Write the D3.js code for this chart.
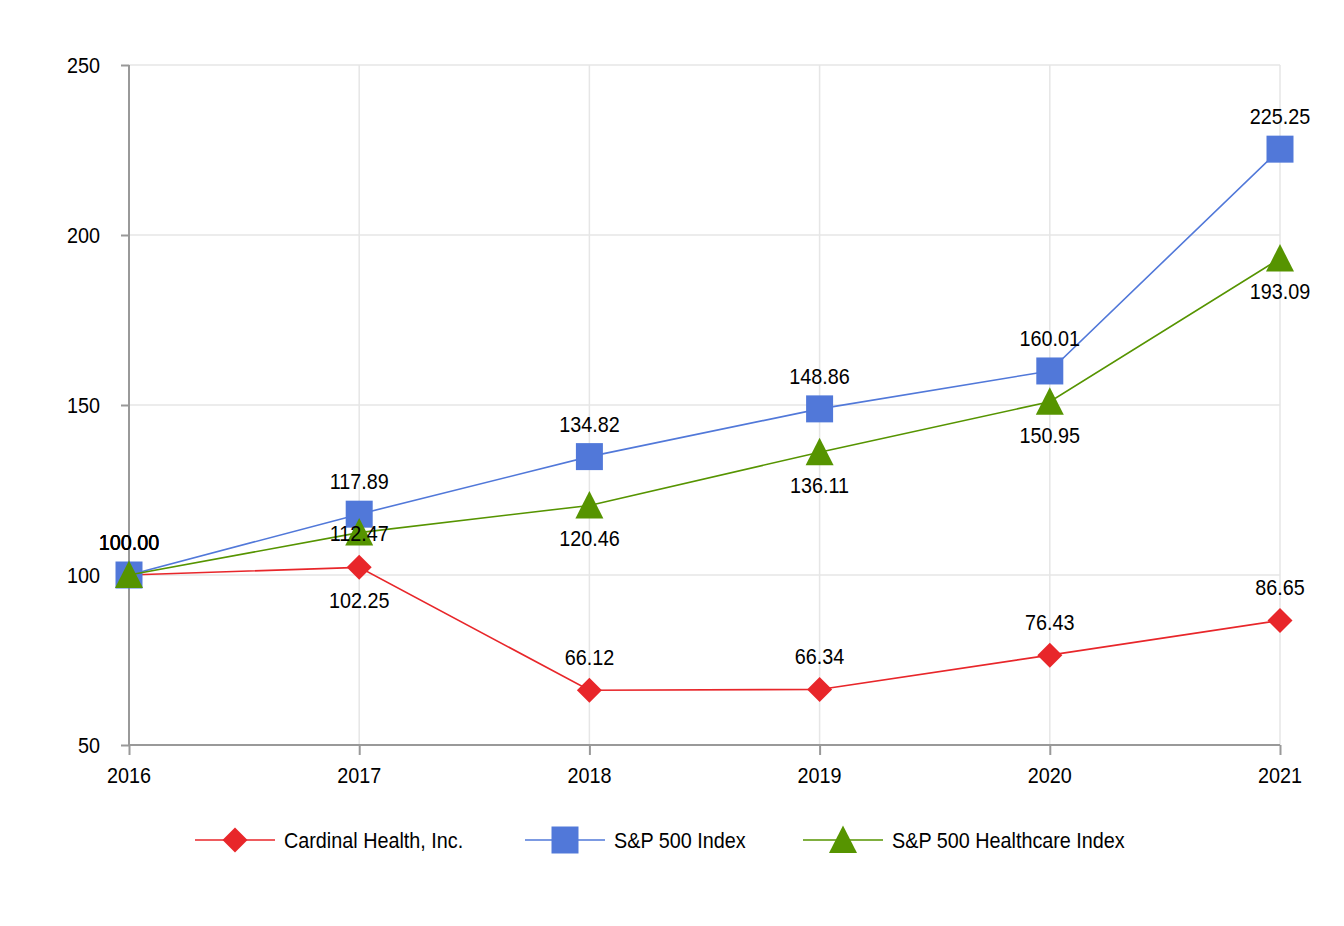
<html>
<head>
<script src="https://d3js.org/d3.v7.min.js"></script>
<style>
body { margin: 0; background: #fff; }
text { font-family: "Liberation Sans Narrow", "Arial Narrow", "Liberation Sans", Arial, sans-serif; fill: #000; }
</style>
</head>
<body>
<div id="chart"></div>
<script>
// data
var years = ["2016", "2017", "2018", "2019", "2020", "2021"];
var cardinal = [100.00, 102.25, 66.12, 66.34, 76.43, 86.65];
var sp500 = [100.00, 117.89, 134.82, 148.86, 160.01, 225.25];
var healthcare = [100.00, 112.47, 120.46, 136.11, 150.95, 193.09];
var yTicks = [50, 100, 150, 200, 250];

// label placement per point: -1 above, 1 below, 0 on the point
var cardinalLabelPos = [-1, 1, -1, -1, -1, -1];
var sp500LabelPos = [-1, -1, -1, -1, -1, -1];
var healthcareLabelPos = [-1, 0, 1, 1, 1, 1];

var series = [
  {name: "Cardinal Health, Inc.", values: cardinal, pos: cardinalLabelPos, color: "#e8262a", shape: "diamond"},
  {name: "S&P 500 Index", values: sp500, pos: sp500LabelPos, color: "#5178d9", shape: "square"},
  {name: "S&P 500 Healthcare Index", values: healthcare, pos: healthcareLabelPos, color: "#569400", shape: "triangle"}
];

var W = 1344, H = 926;
var margin = {top: 65, right: 64, bottom: 181, left: 129};
var FS = 22, SX = 0.9; // condensed look: taller font squeezed sideways

var svg = d3.select("#chart").append("svg")
  .attr("width", W).attr("height", H);

var x = d3.scalePoint().domain(years).range([margin.left, W - margin.right]);
var y = d3.scaleLinear().domain([50, 250]).range([H - margin.bottom, margin.top]);

// narrow text helper
function label(g, tx, ty, str, anchor) {
  return g.append("text")
    .attr("transform", "translate(" + tx + "," + ty + ") scale(" + SX + ",1)")
    .attr("dy", "0.36em")
    .attr("text-anchor", anchor || "middle")
    .attr("font-size", FS)
    .text(str);
}

// grid
svg.append("g").selectAll("line").data(yTicks.slice(1)).enter().append("line")
  .attr("x1", margin.left).attr("x2", W - margin.right)
  .attr("y1", d => y(d)).attr("y2", d => y(d))
  .attr("stroke", "#e6e6e6").attr("stroke-width", 1.5);
svg.append("g").selectAll("line").data(years.slice(1)).enter().append("line")
  .attr("x1", d => x(d)).attr("x2", d => x(d))
  .attr("y1", margin.top).attr("y2", H - margin.bottom)
  .attr("stroke", "#e6e6e6").attr("stroke-width", 1.5);

// axes
var yAxis = svg.append("g")
  .attr("transform", "translate(" + margin.left + ",0)")
  .call(d3.axisLeft(y).tickValues(yTicks).tickSize(8).tickFormat(""));
var xAxis = svg.append("g")
  .attr("transform", "translate(0," + (H - margin.bottom) + ")")
  .call(d3.axisBottom(x).tickSize(10).tickFormat(""));
[xAxis, yAxis].forEach(function(a) {
  a.select(".domain").attr("stroke", "#999").attr("stroke-width", 2);
  a.selectAll(".tick line").attr("stroke", "#999").attr("stroke-width", 2);
});
yAxis.select(".domain").attr("d", "M0," + margin.top + "V" + (H - margin.bottom));
xAxis.select(".domain").attr("d", "M" + margin.left + ",0H" + (W - margin.right));

var tickLabels = svg.append("g");
yTicks.forEach(function(t) { label(tickLabels, 100, y(t), t, "end"); });
years.forEach(function(yr) { label(tickLabels, x(yr), H - margin.bottom + 30, yr); });

var shapes = {
  diamond: "M0,-12.5L12.5,0L0,12.5L-12.5,0Z",
  square: "M-13.5,-13.5H13.5V13.5H-13.5Z",
  triangle: "M0,-14.5L14,13L-14,13Z"
};

function marker(g, s) {
  return g.append("path").attr("d", shapes[s.shape]).attr("fill", s.color);
}

var line = d3.line().x((d, i) => x(years[i])).y(d => y(d));

series.forEach(function(s) {
  var g = svg.append("g");
  g.append("path").datum(s.values).attr("d", line)
    .attr("fill", "none").attr("stroke", s.color).attr("stroke-width", 1.6);
  s.values.forEach(function(v, i) {
    marker(g, s).attr("transform", "translate(" + x(years[i]) + "," + y(v) + ")");
  });
});

// data labels
series.forEach(function(s) {
  var g = svg.append("g");
  s.values.forEach(function(v, i) {
    label(g, x(years[i]), y(v) + s.pos[i] * 33, v.toFixed(2));
  });
});

// legend
var legendX = [195, 525, 803];
var legendY = 840;
series.forEach(function(s, i) {
  var g = svg.append("g").attr("transform", "translate(" + legendX[i] + "," + legendY + ")");
  g.append("line").attr("x1", 0).attr("x2", 80).attr("stroke", s.color).attr("stroke-width", 1.6);
  marker(g, s).attr("transform", "translate(40,0)");
  label(g, 89, 0, s.name, "start");
});
</script>
</body>
</html>
